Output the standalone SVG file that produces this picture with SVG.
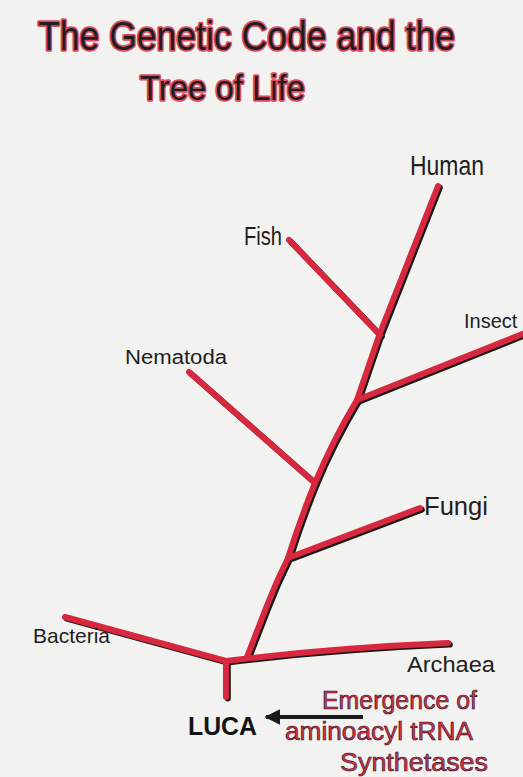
<svg xmlns="http://www.w3.org/2000/svg" width="523" height="777" viewBox="0 0 523 777">
  <defs>
    <style>
      .shadow { fill: none; stroke: #1a1a1a; stroke-width: 6; stroke-linecap: round; stroke-linejoin: round; }
      .branch { fill: none; stroke: #d8283f; stroke-width: 6; stroke-linecap: round; stroke-linejoin: round; }
      .title { font-family: "Liberation Sans", "DejaVu Sans", sans-serif; fill: #1e1e1e; stroke: #dc4a62; stroke-width: 3.5; paint-order: stroke; stroke-linejoin: round; }
      .label { font-family: "Liberation Sans", "DejaVu Sans", sans-serif; fill: #1e1e1e; }
      .note { font-family: "Liberation Sans", "DejaVu Sans", sans-serif; fill: #d6304f; stroke: #2a1015; stroke-width: 0.6; font-size: 25px; }
      .luca { font-family: "Liberation Sans", "DejaVu Sans", sans-serif; font-weight: bold; fill: #141414; font-size: 26px; }
    </style>
    <marker id="arrowhead" viewBox="0 0 10 10" refX="9" refY="5" markerWidth="4" markerHeight="4" orient="auto-start-reverse" markerUnits="strokeWidth">
      <path d="M0,0 L10,5 L0,10 z" fill="#1a1a1a"/>
    </marker>
  </defs>

  <rect x="0" y="0" width="523" height="777" fill="#f2f2f0"/>

  <g id="title">
    <text class="title" x="38" y="50" font-size="40" textLength="417" lengthAdjust="spacingAndGlyphs">The Genetic Code and the</text>
    <text class="title" x="140" y="100" font-size="35" textLength="165" lengthAdjust="spacingAndGlyphs">Tree of Life</text>
  </g>

  <g id="connectors">
    <g transform="translate(1.8,1.6)">
      <path class="shadow" d="M226,697 L226,661"/>
      <path class="shadow" d="M65,617 Q150,640 226,661"/>
      <path class="shadow" d="M226,661 Q330,648 448,643"/>
      <path class="shadow" d="M247,657 L266,608 Q276,582 288,558 Q300,520 315,483 Q333,440 357,400 Q368,368 380,333 L438,186"/>
      <path class="shadow" d="M288,558 L420,508"/>
      <path class="shadow" d="M189,372 L315,483"/>
      <path class="shadow" d="M357,400 L525,333"/>
      <path class="shadow" d="M289,240 L380,335"/>
    </g>
    <path class="branch" d="M226,697 L226,661"/>
    <path class="branch" d="M65,617 Q150,640 226,661"/>
    <path class="branch" d="M226,661 Q330,648 448,643"/>
    <path class="branch" d="M247,657 L266,608 Q276,582 288,558 Q300,520 315,483 Q333,440 357,400 Q368,368 380,333 L438,186"/>
    <path class="branch" d="M288,558 L420,508"/>
    <path class="branch" d="M189,372 L315,483"/>
    <path class="branch" d="M357,400 L525,333"/>
    <path class="branch" d="M289,240 L380,335"/>
    <line x1="363" y1="717" x2="266" y2="717" stroke="#1a1a1a" stroke-width="4" marker-end="url(#arrowhead)"/>
  </g>

  <g id="human"><text class="label" x="410" y="175" font-size="28" textLength="74" lengthAdjust="spacingAndGlyphs">Human</text></g>
  <g id="fish"><text class="label" x="244" y="245" font-size="26" textLength="38" lengthAdjust="spacingAndGlyphs">Fish</text></g>
  <g id="insect"><text class="label" x="464" y="328" font-size="20">Insect</text></g>
  <g id="nematoda"><text class="label" x="125" y="364" font-size="20" textLength="102" lengthAdjust="spacingAndGlyphs">Nematoda</text></g>
  <g id="fungi"><text class="label" x="424" y="515" font-size="25" textLength="64" lengthAdjust="spacingAndGlyphs">Fungi</text></g>
  <g id="bacteria"><text class="label" x="33" y="643" font-size="21" textLength="77" lengthAdjust="spacingAndGlyphs">Bacteria</text></g>
  <g id="archaea"><text class="label" x="407" y="672" font-size="22" textLength="88" lengthAdjust="spacingAndGlyphs">Archaea</text></g>
  <g id="luca"><text class="luca" x="188" y="735" textLength="69" lengthAdjust="spacingAndGlyphs">LUCA</text></g>
  <g id="emergence">
    <text class="note" x="322" y="709" textLength="155" lengthAdjust="spacingAndGlyphs">Emergence of</text>
    <text class="note" x="285" y="740" textLength="188" lengthAdjust="spacingAndGlyphs">aminoacyl tRNA</text>
    <text class="note" x="340" y="771" textLength="148" lengthAdjust="spacingAndGlyphs">Synthetases</text>
  </g>
</svg>
